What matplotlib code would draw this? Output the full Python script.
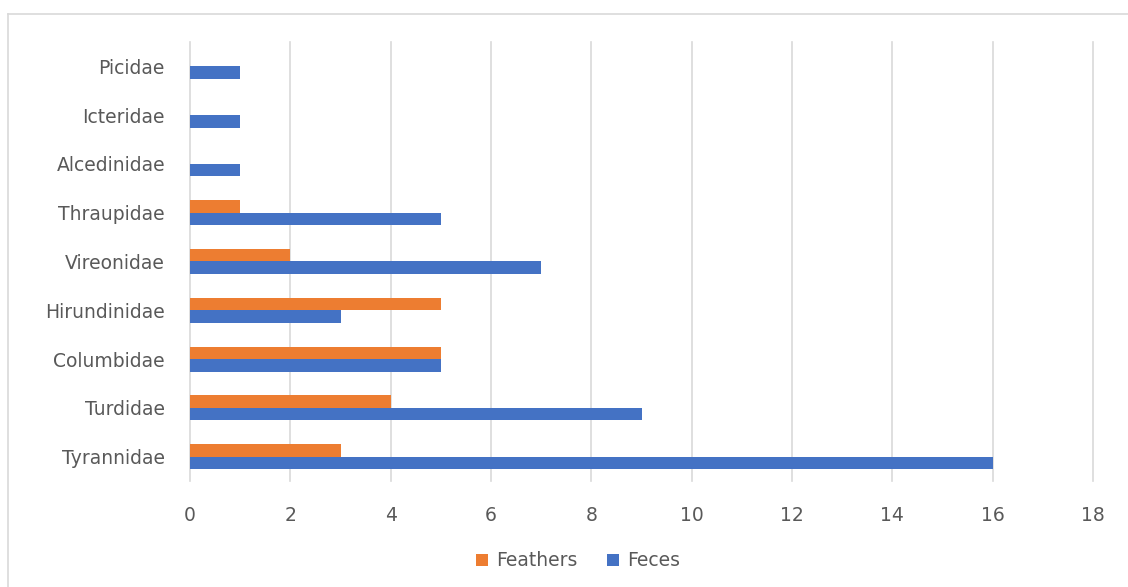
import numpy as np
import matplotlib
matplotlib.use("Agg")
import matplotlib.pyplot as plt
from matplotlib.lines import Line2D

families = ['Tyrannidae', 'Turdidae', 'Columbidae', 'Hirundinidae', 'Vireonidae',
            'Thraupidae', 'Alcedinidae', 'Icteridae', 'Picidae']
feathers = [3, 4, 5, 5, 2, 1, 0, 0, 0]
feces = [16, 9, 5, 3, 7, 5, 1, 1, 1]
xticks = [0, 2, 4, 6, 8, 10, 12, 14, 16, 18]

plt.rcParams['font.family'] = ['DejaVu Sans']
txt = '#595959'

fig = plt.figure(figsize=(11.28, 5.87), dpi=100)
ax = fig.add_axes([190 / 1128, 1 - 481 / 587, (1093 - 190) / 1128, (481 - 42) / 587])

y = np.arange(len(families))
h = 0.256
ax.barh(y + h / 2, feathers, height=h, color='#ED7D31', label='Feathers', zorder=3)
ax.barh(y - h / 2, feces, height=h, color='#4472C4', label='Feces', zorder=3)

ax.set_xlim(0, 18)
ax.set_ylim(-0.5, len(families) - 0.5)
ax.set_xticks(xticks)
ax.set_yticks(y)
ax.set_yticklabels(families)
for x in xticks:
    ax.axvline(x, color='#D9D9D9', lw=1.2, zorder=1, clip_on=False)
for s in ax.spines.values():
    s.set_visible(False)
ax.tick_params(axis='both', length=0, labelsize=13.5, labelcolor=txt)
ax.tick_params(axis='y', pad=18)
ax.tick_params(axis='x', pad=18)

leg = ax.legend(loc='center', bbox_to_anchor=(578 / 1128, 1 - 561 / 587),
                bbox_transform=fig.transFigure, ncol=2, frameon=False,
                fontsize=13.5, handlelength=0.65, handleheight=0.65,
                handletextpad=0.4, columnspacing=1.6)
for t in leg.get_texts():
    t.set_color(txt)

# chart border
fig.add_artist(Line2D([8 / 1128, 1.0], [1 - 14 / 587, 1 - 14 / 587],
                      transform=fig.transFigure, color='#D9D9D9', lw=1.2))
fig.add_artist(Line2D([8 / 1128, 8 / 1128], [0, 1 - 14 / 587],
                      transform=fig.transFigure, color='#D9D9D9', lw=1.2))

fig.savefig('out.png', dpi=100)
